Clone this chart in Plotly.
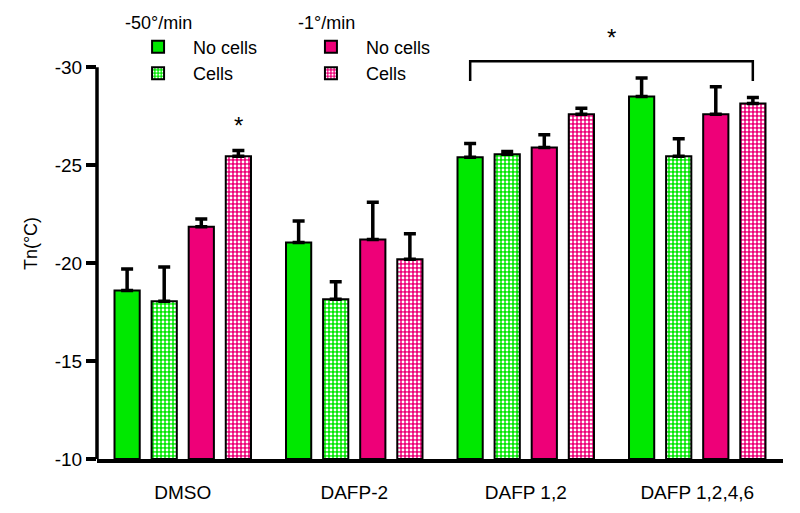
import plotly.graph_objects as go

groups = ["DMSO", "DAFP-2", "DAFP 1,2", "DAFP 1,2,4,6"]
base_value = -10

fast_no_cells = [-18.6, -21.05, -25.4, -28.5]
fast_no_cells_err = [1.1, 1.1, 0.7, 0.95]
fast_cells = [-18.05, -18.15, -25.55, -25.45]
fast_cells_err = [1.75, 0.9, 0.15, 0.9]
slow_no_cells = [-21.85, -21.2, -25.9, -27.6]
slow_no_cells_err = [0.4, 1.9, 0.65, 1.4]
slow_cells = [-25.45, -20.2, -27.6, -28.15]
slow_cells_err = [0.3, 1.3, 0.3, 0.3]

y_ticks = [-10, -15, -20, -25, -30]
y_tick_labels = ["-10", "-15", "-20", "-25", "-30"]

GREEN = "#00e800"
PINK = "#ee0078"
FONT = "Liberation Sans, Arial, sans-serif"
FS = 19

fig = go.Figure()

def add_bar(vals, errs, name, color, patterned, legend):
    marker = dict(color=color, line=dict(color="black", width=2))
    if patterned:
        marker["pattern"] = dict(shape=".", fgcolor="white", bgcolor=color,
                                 size=4, solidity=0.4, fillmode="replace")
    fig.add_trace(go.Bar(
        x=groups,
        y=[v - base_value for v in vals],
        base=base_value,
        name=name,
        marker=marker,
        error_y=dict(type="data", symmetric=False,
                     array=[0] * len(errs), arrayminus=errs,
                     color="black", thickness=3.5, width=6),
        legend=legend,
    ))

add_bar(fast_no_cells, fast_no_cells_err, "No cells", GREEN, False, "legend")
add_bar(fast_cells, fast_cells_err, "Cells", GREEN, True, "legend")
add_bar(slow_no_cells, slow_no_cells_err, "No cells", PINK, False, "legend2")
add_bar(slow_cells, slow_cells_err, "Cells", PINK, True, "legend2")

# y axis line (only up to -30)
fig.add_shape(type="line", xref="paper", yref="y", x0=0, x1=0, y0=-10, y1=-30,
              line=dict(color="black", width=3.5))

# significance bracket over DAFP groups
fig.add_shape(type="path", xref="x", yref="y",
              path="M 1.676,-29.3 L 1.676,-30.3 L 3.324,-30.3 L 3.324,-29.3",
              line=dict(color="black", width=2.5))
fig.add_annotation(x=2.5, y=-31.5, text="*", showarrow=False, xref="x", yref="y",
                   font=dict(size=24, color="black", family=FONT))
fig.add_annotation(x=0.324, y=-27.0, text="*", showarrow=False, xref="x", yref="y",
                   font=dict(size=24, color="black", family=FONT))

legend_common = dict(
    orientation="v", bgcolor="rgba(0,0,0,0)", borderwidth=0,
    font=dict(size=18, color="black", family=FONT),
    title_font=dict(size=18, color="black", family=FONT),
    xanchor="left", yanchor="top", tracegroupgap=0, itemwidth=60,
)
fig.update_layout(
    width=800, height=513,
    margin=dict(l=89, r=25, t=20, b=62, autoexpand=False),
    paper_bgcolor="white", plot_bgcolor="white",
    barmode="group", bargap=0.135, bargroupgap=0.32,
    showlegend=True,
    legend=dict(x=0.038, y=1.053, title_text="-50°/min", **legend_common),
    legend2=dict(x=0.29, y=1.053, title_text="-1°/min", **legend_common),
    font=dict(family=FONT, color="black"),
    xaxis=dict(range=[-0.5, 3.5], showline=True, linecolor="black", linewidth=3.5,
               ticks="", showgrid=False, zeroline=False, automargin=False,
               ticklabelstandoff=13,
               tickfont=dict(size=FS, color="black", family=FONT)),
    yaxis=dict(range=[-10, -32], tickvals=y_ticks, ticktext=y_tick_labels,
               ticks="outside", ticklen=10, tickwidth=3.5, tickcolor="black",
               showline=False, showgrid=False, zeroline=False, automargin=False,
               tickfont=dict(size=FS, color="black", family=FONT),
               title=dict(text="Tn(°C)", font=dict(size=18, color="black", family=FONT),
                          standoff=12)),
)

fig.write_html("out.html")
